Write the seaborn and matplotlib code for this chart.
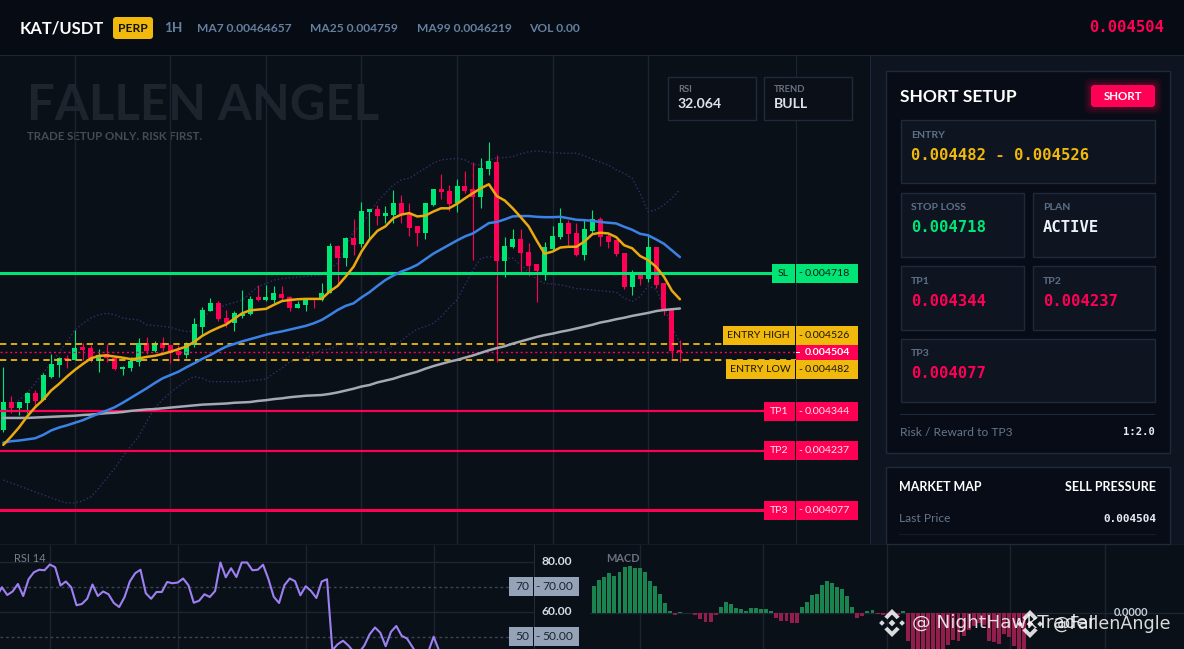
import numpy as np
import seaborn as sns
import matplotlib
matplotlib.use('Agg')
import matplotlib.pyplot as plt
from matplotlib.patches import Rectangle, FancyBboxPatch, Polygon

# Candles, prices in millionths of USDT
opens = [4294,4369,4352,4366,4393,4375,4436,4469,4487,4483,4518,4513,4480,4499,4488,4459,4461,4478,4528,4506,4527,4521,4505,4496,4523,4573,4615,4637,4594,4584,4602,4606,4651,4645,4644,4661,4653,4624,4632,4650,4645,4663,4789,4759,4813,4797,4883,4891,4872,4875,4905,4878,4843,4826,4902,4945,4940,4908,4953,4943,4924,5000,5018,4751,4789,4810,4775,4740,4717,4783,4816,4853,4826,4767,4832,4862,4818,4805,4770,4680,4716,4702,4786,4689,4618,4510]
highs = [4463,4386,4370,4397,4402,4447,4499,4492,4496,4564,4528,4523,4513,4525,4489,4467,4490,4542,4546,4535,4545,4523,4523,4532,4596,4627,4650,4643,4618,4614,4672,4656,4686,4686,4683,4683,4656,4641,4650,4650,4690,4798,4794,4815,4864,4910,4891,4902,4899,4943,4929,4907,4845,4907,4945,4986,4956,4972,4994,5018,5029,5072,5037,4816,4837,4837,4799,4743,4802,4845,4894,4862,4853,4864,4889,4869,4824,4808,4770,4726,4721,4824,4786,4689,4618,4537]
lows = [4289,4339,4334,4339,4358,4375,4433,4436,4461,4483,4483,4478,4451,4478,4456,4442,4454,4467,4499,4503,4508,4474,4480,4488,4519,4551,4614,4587,4573,4561,4596,4605,4643,4641,4636,4643,4615,4622,4615,4623,4643,4663,4686,4737,4767,4788,4808,4848,4853,4853,4854,4817,4791,4811,4898,4918,4886,4884,4935,4753,4894,4983,4476,4707,4786,4721,4710,4640,4699,4780,4810,4794,4764,4753,4826,4791,4786,4764,4675,4659,4686,4694,4678,4605,4488,4476]
closes = [4369,4352,4369,4393,4373,4440,4472,4486,4483,4515,4510,4483,4494,4488,4459,4464,4480,4529,4507,4528,4515,4505,4496,4528,4578,4618,4637,4594,4582,4610,4605,4648,4645,4651,4664,4651,4624,4634,4650,4647,4664,4789,4759,4813,4794,4886,4889,4872,4878,4905,4878,4840,4826,4905,4944,4937,4905,4953,4940,4924,5002,5021,4751,4791,4808,4772,4737,4723,4786,4818,4853,4824,4767,4835,4862,4816,4802,4770,4680,4718,4702,4786,4686,4616,4507,4504]

ma7 = [4253,4276,4301,4330,4355,4375,4400,4418,4438,4456,4472,4487,4494,4495,4492,4489,4485,4487,4491,4494,4499,4505,4512,4519,4532,4548,4560,4570,4579,4594,4609,4617,4619,4621,4632,4642,4645,4647,4648,4648,4648,4668,4683,4708,4735,4776,4808,4832,4844,4866,4876,4880,4871,4873,4884,4893,4893,4905,4920,4934,4947,4958,4926,4914,4893,4869,4844,4806,4770,4776,4787,4789,4789,4803,4823,4827,4825,4815,4793,4785,4764,4753,4735,4708,4670,4647]
ma25 = [4259,4263,4265,4268,4271,4280,4292,4300,4306,4313,4320,4329,4338,4346,4355,4367,4380,4393,4406,4420,4433,4442,4451,4463,4474,4486,4496,4508,4519,4526,4533,4539,4545,4551,4556,4560,4565,4570,4575,4582,4591,4604,4618,4629,4636,4652,4666,4683,4699,4711,4722,4730,4740,4755,4770,4782,4794,4806,4817,4825,4839,4853,4856,4863,4871,4872,4872,4870,4869,4869,4870,4866,4862,4861,4859,4856,4854,4852,4843,4835,4824,4820,4809,4797,4779,4761]
ma99 = [4326,4326,4326,4326,4327,4328,4329,4330,4331,4332,4334,4335,4337,4339,4340,4342,4345,4347,4349,4350,4352,4354,4356,4358,4360,4362,4363,4364,4365,4367,4368,4369,4372,4374,4377,4379,4382,4384,4386,4387,4388,4391,4395,4400,4405,4411,4415,4422,4427,4432,4439,4445,4451,4459,4466,4472,4478,4483,4489,4495,4502,4509,4515,4520,4527,4533,4539,4545,4550,4554,4559,4563,4568,4573,4578,4584,4588,4593,4597,4602,4606,4610,4615,4618,4620,4622]
bb_upper = [4343,4357,4375,4393,4420,4447,4474,4503,4532,4564,4582,4596,4605,4609,4605,4596,4593,4591,4578,4576,4574,4571,4564,4560,4560,4591,4618,4623,4632,4638,4645,4663,4681,4690,4699,4703,4705,4707,4709,4711,4713,4731,4744,4789,4830,4848,4880,4911,4934,4956,4970,4974,4988,5001,5015,5024,5026,5028,5024,5012,5010,5024,5029,5030,5033,5040,5046,5048,5046,5044,5042,5042,5042,5035,5026,5018,5010,4997,4988,4974,4934,4884,4889,4902,4920,4944]
bb_lower = [4158,4150,4142,4134,4126,4118,4110,4102,4096,4096,4102,4113,4136,4163,4190,4221,4249,4276,4316,4352,4375,4395,4411,4427,4438,4433,4424,4424,4424,4424,4424,4427,4429,4431,4447,4460,4478,4483,4487,4499,4510,4512,4523,4528,4528,4512,4503,4505,4510,4522,4535,4552,4566,4573,4582,4600,4624,4645,4686,4726,4758,4762,4760,4758,4758,4740,4722,4701,4690,4688,4686,4681,4676,4674,4672,4670,4668,4666,4650,4641,4654,4683,4674,4627,4573,4528]

rsi = [65.9,69.7,66.6,68.0,71.0,66.2,72.9,75.7,76.7,76.5,78.8,77.7,70.4,72.0,69.7,62.5,63.0,65.1,70.8,66.2,68.0,66.9,63.4,61.8,65.7,72.0,75.3,76.7,67.3,65.1,67.8,67.8,71.8,71.3,71.6,73.2,70.5,63.5,64.3,66.9,65.8,68.2,79.6,73.7,77.3,73.8,79.6,79.6,76.5,76.7,78.7,73.0,65.9,63.4,70.5,73.2,72.1,66.5,70.1,68.2,65.4,72.0,72.9,44.5,46.9,48.3,46.4,43.9,43.5,46.4,50.9,53.6,51.5,46.1,51.9,54.2,50.3,49.2,45.9,42.5,41.8,43.9,49.9,44.5,40.5,38.0,35.0,32.064]
macd = [27,33,36,40,37,41,46,47,45,45,41,32,27,19,10,2,-2,1,-0.4,-0.4,-2,-6,-9,-9,-2,6,11,9,5,4,2,5,5,4,4,2,-5,-8,-8,-10,-10,6,11,18,19,28,32,30,26,24,17,6,-5,-3,2,3,-1,-2,-2,-2,-2,2,-28,-40,-40,-40,-40,-40,-40,-40,-32,-27,-28,-23,-17,-13,-10,-12,-28,-29,-31,-21,-24,-33,-40,-40]

sl_price = 4718
entry_high = 4526
entry_low = 4482
last_price = 4504
tp_prices = [4344, 4237, 4077]
rsi_ticks = [80, 70, 60, 50]

BG = '#0a1018'
HEADER = '#070b14'
PANEL = '#0e1521'
CARD = '#080c16'
INNER = '#0e1420'
BORDER = '#1f2a3b'
GRID = '#1c2430'
GREEN = '#00e676'
RED = '#ff0055'
YELLOW = '#f0b90b'
SANS = 'Lato'
MONO = 'DejaVu Sans Mono'

sns.set_theme(style='dark', rc={'axes.facecolor': 'none', 'figure.facecolor': BG, 'axes.grid': False,
                                'patch.edgecolor': 'none', 'patch.linewidth': 0})
plt.rcParams['font.family'] = [SANS, 'DejaVu Sans']

W, H = 1184, 649
fig = plt.figure(figsize=(W / 100, H / 100), dpi=100)


def px_axes(left, top, right, bottom, zorder):
    ax = fig.add_axes([left / W, 1 - bottom / H, (right - left) / W, (bottom - top) / H], zorder=zorder)
    ax.set_facecolor('none')
    ax.tick_params(length=0, labelbottom=False, labelleft=False)
    ax.set_xlabel('')
    sns.despine(ax=ax, left=True, bottom=True)
    return ax


def clean(ax, xticks, xlim, ylim):
    ax.set_xticks(xticks)
    ax.set_yticks([])
    ax.set_xlim(*xlim)
    ax.set_ylim(*ylim)
    ax.set_xlabel('')
    ax.set_ylabel('')
    ax.tick_params(length=0, labelbottom=False, labelleft=False)
    ax.grid(axis='x', color=GRID, lw=1)
    ax.set_axisbelow(True)


# Backdrop in pixel coordinates
back = px_axes(0, 0, W, H, 0)
back.set_xlim(0, W)
back.set_ylim(H, 0)
back.axis('off')
top = px_axes(0, 0, W, H, 5)
top.set_xlim(0, W)
top.set_ylim(H, 0)
top.axis('off')


def box(ax, x0, y0, x1, y1, fc, ec=None, lw=1, z=1):
    ax.add_patch(Rectangle((x0, y0), x1 - x0, y1 - y0, fc=fc, ec=ec if ec else 'none', lw=lw, zorder=z))


def txt(ax, x, y, s, px, color, weight='normal', family=SANS, ha='left', z=6, alpha=None):
    ax.text(x, y, s, fontsize=px * 0.72, color=color, fontweight=weight, family=family, ha=ha, va='center',
            zorder=z, alpha=alpha)


box(back, 0, 0, W, 55, HEADER)
box(back, 0, 55, W, 56, '#1c2735')
box(back, 870, 56, W, 544, PANEL)
box(back, 870, 56, 871, 544, BORDER)
box(back, 0, 544, W, 545, '#141b26')

# Main chart
price_x = np.arange(len(closes))
ax = px_axes(0, 56, 796, 544, 2)
scale = 369735 / 1e6  # pixels per millionth
clean(ax, [9, 21, 33, 45, 57, 69, 81], (-3.3 / 7.96, 792.7 / 7.96),
      (sl_price - 271 / scale, sl_price + 217 / scale))
for series in (bb_upper, bb_lower):
    sns.lineplot(x=price_x, y=series, color='#352d6b', lw=1, ls=':', ax=ax, zorder=2)
colors = [GREEN if c >= o else RED for o, c in zip(opens, closes)]
ax.vlines(price_x, lows, highs, colors=colors, lw=0.8, zorder=3)
ax.bar(price_x, np.abs(np.array(closes) - np.array(opens)) + 1, bottom=np.minimum(opens, closes), width=0.63,
       color=colors, edgecolor='none', lw=0, zorder=3)
ax.axhline(sl_price, color=GREEN, lw=2.2, zorder=4)
for p, lw in zip(tp_prices, (1.6, 1.6, 2.2)):
    ax.axhline(p, color=RED, lw=lw, zorder=4)
ax.axhline(entry_high, color=YELLOW, lw=1.3, ls=(0, (3.5, 2.5)), zorder=4)
ax.axhline(entry_low, color=YELLOW, lw=1.3, ls=(0, (3.5, 2.5)), zorder=4)
ax.axhline(last_price, color=RED, lw=1, ls=(0, (1.5, 2)), zorder=4)
sns.lineplot(x=price_x, y=ma99, color='#a4a9b4', lw=1.8, ax=ax, zorder=5)
sns.lineplot(x=price_x, y=ma25, color='#3b82e6', lw=1.8, ax=ax, zorder=5)
sns.lineplot(x=price_x, y=ma7, color='#eaa90f', lw=1.8, ax=ax, zorder=5)
clean(ax, [9, 21, 33, 45, 57, 69, 81], (-3.3 / 7.96, 792.7 / 7.96),
      (sl_price - 271 / scale, sl_price + 217 / scale))
box(back, 796, 56, 797, 544, '#1d2636')

txt(back, 27, 105, 'FALLEN ANGEL', 49, '#1e242d', 'bold', z=2)
txt(back, 27, 137, 'TRADE SETUP ONLY. RISK FIRST.', 11.5, '#454c57', 'bold', z=2)


def price_px(p):
    return 273 + (sl_price - p) * scale


def level_label(y0, y1, left, name, value, bg, fg):
    box(top, left, y0, 858, y1, bg, z=2)
    ym = (y0 + y1) / 2
    txt(top, (left + 794) / 2, ym, name, 10.5, fg, 'normal', ha='center')
    txt(top, 798, ym, '-', 10.5, fg)
    txt(top, 805, ym, value, 10.5, fg)
    box(top, 795, y0, 796, y1, '#0a1018', z=3)


def fmt(p):
    return f'{p / 1e6:.6f}'


ym = price_px(sl_price)
level_label(ym - 9.5, ym + 9.5, 772, 'SL', fmt(sl_price), GREEN, '#0b1a16')
level_label(326, 345, 723, 'ENTRY HIGH', fmt(entry_high), YELLOW, '#1a1608')
level_label(360, 379, 726, 'ENTRY LOW', fmt(entry_low), YELLOW, '#1a1608')
box(top, 796, 345, 858, 360, RED, z=2)
box(top, 796, 352, 800, 353, 'white', z=3)
txt(top, 805, 352.5, fmt(last_price), 10.5, 'white', 'bold')
for n, p in enumerate(tp_prices):
    ym = price_px(p)
    level_label(ym - 9.5, ym + 9.5, 764, f'TP{n + 1}', fmt(p), RED, '#ffe6ee')

# RSI panel
ax_rsi = px_axes(0, 545, 534, 649, 2)
rsi_x = np.arange(len(rsi))
for v in rsi_ticks:
    ax_rsi.axhline(v, color='#3a4452' if v in (70, 50) else '#1e2530', lw=1, ls=(0, (2, 2)) if v in (70, 50) else '-')
sns.lineplot(x=rsi_x, y=rsi, color='#9d80f2', lw=1.5, ax=ax_rsi, zorder=3)
clean(ax_rsi, [10, 34, 58, 82], (3.43 / 5.33, 537.43 / 5.33), (45, 86.6))
box(back, 534, 545, 535, H, '#222b3a')
txt(top, 14, 559, 'RSI 14', 11, '#7b8087')
for v in rsi_ticks:
    y = 561.5 + (80 - v) * 2.5
    if v in (70, 50):
        box(top, 509, y - 9.5, 579, y + 9.5, '#94a3b8', z=2)
        box(top, 533, y - 9.5, 534, y + 9.5, '#0a1018', z=3)
        txt(top, 522, y, str(v), 12, '#1c2430', ha='center')
        txt(top, 535, y, '-', 12, '#1c2430')
        txt(top, 542, y, f'{v:.2f}', 12, '#1c2430')
    else:
        txt(top, 542, y, f'{v:.2f}', 12, '#d8dee8', 'bold')

# MACD panel
ax_macd = px_axes(590, 545, W, 649, 2)
macd_x = np.arange(len(macd))
sns.barplot(x=macd_x, y=macd, hue=['up' if m > 0 else 'down' for m in macd],
            palette={'up': '#07964f', 'down': '#a80a47'}, native_scale=True, dodge=False, width=0.78,
            legend=False, ax=ax_macd, zorder=3, edgecolor='none', linewidth=0)
ax_macd.axhline(0, color='#1e2530', lw=1, zorder=1)
clean(ax_macd, [9, 33.3, 57.8, 82.1, 101], (-4.2 / 5.06, 589.8 / 5.06), (-36, 68))
txt(top, 606, 559, 'MACD', 11, '#6b7280', 'bold')
txt(top, 1131, 612, '0.0000', 11, '#c8ced8', 'bold', ha='center')

# Header
txt(top, 20, 28, 'KAT/USDT', 16.5, 'white', 'bold')
top.add_patch(FancyBboxPatch((115, 19), 36, 18, boxstyle='round,pad=2,rounding_size=3', fc=YELLOW, ec='none', zorder=2))
txt(top, 133, 28.5, 'PERP', 12, '#15120a', 'bold', ha='center')
txt(top, 164, 28, '1H', 13.5, '#64809f', 'bold')
for x, s in zip((197, 310, 417, 529), ('MA7 0.00464657', 'MA25 0.004759', 'MA99 0.0046219', 'VOL 0.00')):
    txt(top, x, 28, s, 12, '#64809f', 'bold')
txt(top, 1164, 28, fmt(last_price), 15.5, RED, 'bold', MONO, ha='right')

# Small stat boxes over the chart
for x0, x1, name, value in ((668, 756, 'RSI', '32.064'), (764, 852, 'TREND', 'BULL')):
    box(top, x0, 77, x1, 120, '#0a0f18', BORDER, z=2)
    txt(top, x0 + 10, 89, name, 9.5, '#6b7280', 'bold')
    txt(top, x0 + 10, 104, value, 14, '#dde3ec', 'bold')

# Right panel
box(back, 885.5, 70.5, 1169.5, 452.5, CARD, BORDER, z=2)
box(back, 885.5, 466.5, 1169.5, 544, CARD, BORDER, z=2)
txt(top, 900, 97, 'SHORT SETUP', 17.5, 'white', 'bold')
for pad, alpha in ((7, 0.06), (5, 0.08), (3, 0.1)):
    top.add_patch(FancyBboxPatch((1091 - pad, 85 - pad), 64 + 2 * pad, 22 + 2 * pad,
                                 boxstyle='round,pad=0,rounding_size=6', fc=RED, ec='none', alpha=alpha, zorder=2))
top.add_patch(FancyBboxPatch((1091, 85), 64, 22, boxstyle='round,pad=0,rounding_size=3', fc=RED, ec='none', zorder=3))
txt(top, 1123, 96.5, 'SHORT', 11.5, 'white', 'bold', ha='center')

cards = [(900, 119, 1155, 183, 'ENTRY', f'{fmt(entry_low)} - {fmt(entry_high)}', YELLOW),
         (900, 192, 1024, 257, 'STOP LOSS', fmt(sl_price), GREEN),
         (1032, 192, 1155, 257, 'PLAN', 'ACTIVE', '#eef2f8'),
         (900, 265, 1024, 330, 'TP1', fmt(tp_prices[0]), RED),
         (1032, 265, 1155, 330, 'TP2', fmt(tp_prices[1]), RED),
         (900, 338, 1155, 402, 'TP3', fmt(tp_prices[2]), RED)]
for x0, y0, x1, y1, name, value, color in cards:
    box(top, x0 + 0.5, y0 + 0.5, x1 - 0.5, y1 - 0.5, INNER, BORDER, z=2)
    txt(top, x0 + 11, y0 + 16, name, 10.5, '#5f7086', 'bold')
    txt(top, x0 + 11, y0 + 36, value, 15.5, color, 'bold', MONO)
box(top, 900, 414, 1155, 415, BORDER, z=2)
txt(top, 900, 432, 'Risk / Reward to TP3', 12, '#64768c')
txt(top, 1155, 432, '1:2.0', 10.5, '#e8edf4', 'bold', MONO, ha='right')
txt(top, 899, 487, 'MARKET MAP', 12.5, 'white', 'bold')
txt(top, 1156, 487, 'SELL PRESSURE', 12.5, 'white', 'bold', ha='right')
txt(top, 899, 519, 'Last Price', 12, '#64768c')
txt(top, 1156, 519, fmt(last_price), 11, '#e8edf4', 'bold', MONO, ha='right')
box(top, 899, 534, 1156, 535, '#141c29', z=2)


# Watermark
def logo(cx, cy, r):
    wm = dict(fc='white', ec='none', alpha=0.85, zorder=8)
    for dx, dy, s in ((0, 0, 0.24), (-0.72, 0, 0.2), (0.72, 0, 0.2)):
        top.add_patch(Polygon([(cx + (dx - s) * r, cy + dy * r), (cx + dx * r, cy + (dy - s) * r),
                               (cx + (dx + s) * r, cy + dy * r), (cx + dx * r, cy + (dy + s) * r)], **wm))
    for sign in (-1, 1):
        top.add_patch(Polygon([(cx, cy + sign * r), (cx + 0.55 * r, cy + sign * 0.45 * r),
                               (cx + 0.33 * r, cy + sign * 0.27 * r), (cx, cy + sign * 0.6 * r),
                               (cx - 0.33 * r, cy + sign * 0.27 * r), (cx - 0.55 * r, cy + sign * 0.45 * r)], **wm))


logo(892, 623, 14)
logo(1030, 624, 14)
txt(top, 912, 623, '@ NightHawkTrader', 18.5, 'white', family='DejaVu Sans', z=8, alpha=0.85)
txt(top, 1053, 624, '@FallenAngle', 17.5, 'white', family='DejaVu Sans', z=8, alpha=0.85)

fig.savefig('out.png', dpi=100, facecolor=BG)
